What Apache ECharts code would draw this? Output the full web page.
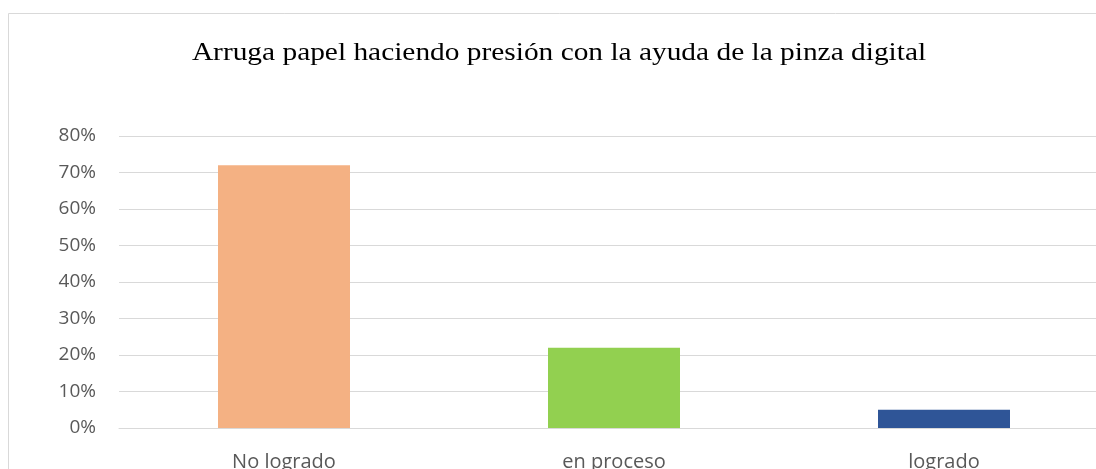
<!DOCTYPE html>
<html>
<head>
<meta charset="utf-8">
<script src="https://cdn.jsdelivr.net/npm/echarts@6/dist/echarts.min.js"></script>
<style>
html,body{margin:0;padding:0;background:#fff;overflow:hidden;}
#c{width:1110px;height:469px;}
</style>
</head>
<body>
<div id="c"></div>
<script>
const title = 'Arruga papel haciendo presión con la ayuda de la pinza digital';
const categories = ['No logrado', 'en proceso', 'logrado'];
const values = [72, 22, 5];
const colors = ['#F4B183', '#92D050', '#2F5597'];
const yTicks = { min: 0, max: 80, interval: 10 };

const chart = echarts.init(document.getElementById('c'));
chart.setOption({
  backgroundColor: '#fff',
  animation: false,
  graphic: [
    { type: 'rect', shape: { x: 8.5, y: 13.5, width: 1200, height: 600 }, style: { fill: 'none', stroke: '#d9d9d9', lineWidth: 1 } },
    { type: 'text', x: 559, y: 53, scaleX: 1.13, style: { text: title, font: '26px "Liberation Serif"', fill: '#000', align: 'center', verticalAlign: 'middle' } }
  ],
  grid: { left: 119, top: 136, right: 1, bottom: 41, outerBoundsMode: 'none', containLabel: false },
  xAxis: {
    type: 'category', data: categories,
    axisLine: { lineStyle: { color: '#d9d9d9', width: 1 } },
    axisTick: { show: false },
    axisLabel: { color: '#595959', fontFamily: 'Open Sans', fontSize: 20, margin: 24 }
  },
  yAxis: {
    type: 'value', min: yTicks.min, max: yTicks.max, interval: yTicks.interval,
    axisLine: { show: false }, axisTick: { show: false },
    splitLine: { lineStyle: { color: '#d9d9d9', width: 1 } },
    axisLabel: { color: '#595959', fontFamily: 'Open Sans', fontSize: 19, margin: 23, formatter: '{value}%' }
  },
  series: [{
    type: 'bar', barCategoryGap: '60%',
    data: values.map((v, i) => ({ value: v, itemStyle: { color: colors[i] } }))
  }]
});
</script>
</body>
</html>
